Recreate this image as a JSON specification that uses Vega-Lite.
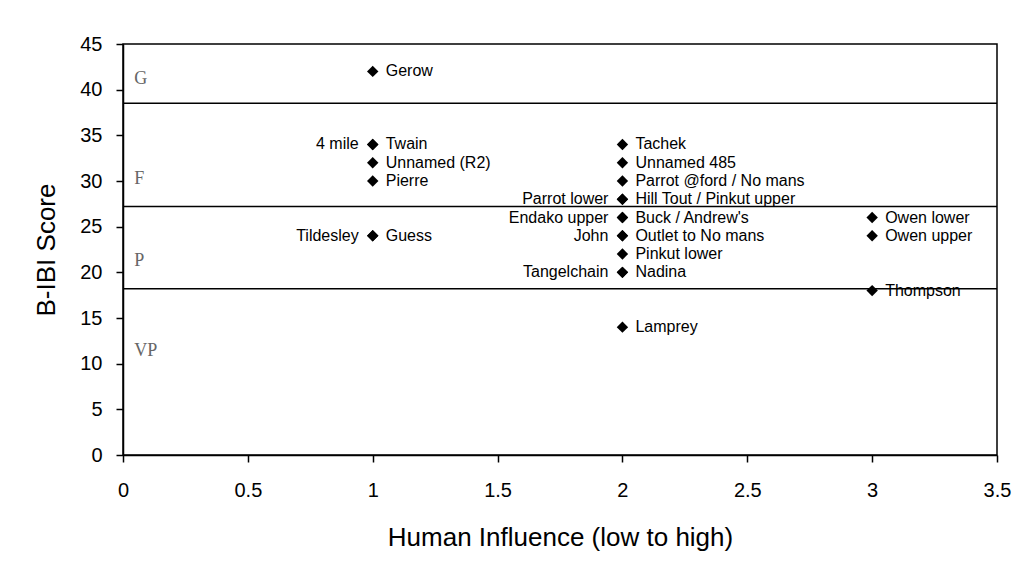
{
  "$schema": "https://vega.github.io/schema/vega-lite/v6.json",
  "width": 874,
  "height": 411,
  "autosize": {"type": "none"},
  "padding": {"left": 123, "top": 44, "right": 39, "bottom": 117},
  "background": "white",
  "config": {
    "view": {"stroke": "black", "strokeWidth": 1.5},
    "font": "Liberation Sans",
    "axis": {
      "grid": false,
      "domainColor": "black",
      "domainWidth": 1.5,
      "tickColor": "black",
      "tickWidth": 1.5,
      "tickSize": 7,
      "labelColor": "black",
      "labelFontSize": 20,
      "labelFont": "Liberation Sans",
      "titleColor": "black",
      "titleFontSize": 26,
      "titleFontWeight": "normal",
      "titleFont": "Liberation Sans",
      "labelFlush": false
    }
  },
  "datasets": {
    "sites": [
      {"influence": 1, "score": 42, "site": "Gerow", "side": "right"},
      {"influence": 1, "score": 34, "site": "Twain", "side": "right"},
      {"influence": 1, "score": 34, "site": "4 mile", "side": "left"},
      {"influence": 1, "score": 32, "site": "Unnamed (R2)", "side": "right"},
      {"influence": 1, "score": 30, "site": "Pierre", "side": "right"},
      {"influence": 1, "score": 24, "site": "Guess", "side": "right"},
      {"influence": 1, "score": 24, "site": "Tildesley", "side": "left"},
      {"influence": 2, "score": 34, "site": "Tachek", "side": "right"},
      {"influence": 2, "score": 32, "site": "Unnamed 485", "side": "right"},
      {"influence": 2, "score": 30, "site": "Parrot  @ford / No mans", "side": "right"},
      {"influence": 2, "score": 28, "site": "Hill Tout / Pinkut upper", "side": "right"},
      {"influence": 2, "score": 28, "site": "Parrot lower", "side": "left"},
      {"influence": 2, "score": 26, "site": "Buck / Andrew's", "side": "right"},
      {"influence": 2, "score": 26, "site": "Endako upper", "side": "left"},
      {"influence": 2, "score": 24, "site": "Outlet to No mans", "side": "right"},
      {"influence": 2, "score": 24, "site": "John", "side": "left"},
      {"influence": 2, "score": 22, "site": "Pinkut lower", "side": "right"},
      {"influence": 2, "score": 20, "site": "Nadina", "side": "right"},
      {"influence": 2, "score": 20, "site": "Tangelchain", "side": "left"},
      {"influence": 2, "score": 14, "site": "Lamprey", "side": "right"},
      {"influence": 3, "score": 26, "site": "Owen lower", "side": "right"},
      {"influence": 3, "score": 24, "site": "Owen upper", "side": "right"},
      {"influence": 3, "score": 18, "site": "Thompson", "side": "right"}
    ],
    "bounds": [
      {"score": 38.5},
      {"score": 27.2},
      {"score": 18.2}
    ],
    "classes": [
      {"influence": 0.045, "score": 41.2, "cls": "G"},
      {"influence": 0.045, "score": 30.2, "cls": "F"},
      {"influence": 0.045, "score": 21.2, "cls": "P"},
      {"influence": 0.045, "score": 11.4, "cls": "VP"}
    ]
  },
  "layer": [
    {
      "data": {"name": "bounds"},
      "mark": {"type": "rule", "color": "black", "strokeWidth": 1.5},
      "encoding": {
        "y": {
          "field": "score",
          "type": "quantitative",
          "scale": {"domain": [0, 45], "nice": false, "zero": true},
          "axis": {"values": [0, 5, 10, 15, 20, 25, 30, 35, 40, 45], "title": "B-IBI Score", "labelPadding": 14, "titlePadding": 20}
        }
      }
    },
    {
      "data": {"name": "classes"},
      "mark": {"type": "text", "align": "left", "baseline": "middle", "font": "Liberation Serif", "fontSize": 18, "color": "#666666"},
      "encoding": {
        "x": {"field": "influence", "type": "quantitative"},
        "y": {"field": "score", "type": "quantitative"},
        "text": {"field": "cls"}
      }
    },
    {
      "data": {"name": "sites"},
      "mark": {"type": "point", "shape": "diamond", "filled": true, "color": "black", "opacity": 1, "size": 130},
      "encoding": {
        "x": {
          "field": "influence",
          "type": "quantitative",
          "scale": {"domain": [0, 3.5], "nice": false},
          "axis": {"values": [0, 0.5, 1, 1.5, 2, 2.5, 3, 3.5], "format": "~g", "title": "Human Influence (low to high)", "labelPadding": 18, "titlePadding": 24}
        },
        "y": {"field": "score", "type": "quantitative"}
      }
    },
    {
      "data": {"name": "sites"},
      "transform": [{"filter": "datum.side == 'right'"}],
      "mark": {"type": "text", "align": "left", "baseline": "middle", "dx": 13, "fontSize": 16, "color": "black"},
      "encoding": {
        "x": {"field": "influence", "type": "quantitative"},
        "y": {"field": "score", "type": "quantitative"},
        "text": {"field": "site"}
      }
    },
    {
      "data": {"name": "sites"},
      "transform": [{"filter": "datum.side == 'left'"}],
      "mark": {"type": "text", "align": "right", "baseline": "middle", "dx": -14, "fontSize": 16, "color": "black"},
      "encoding": {
        "x": {"field": "influence", "type": "quantitative"},
        "y": {"field": "score", "type": "quantitative"},
        "text": {"field": "site"}
      }
    }
  ]
}
